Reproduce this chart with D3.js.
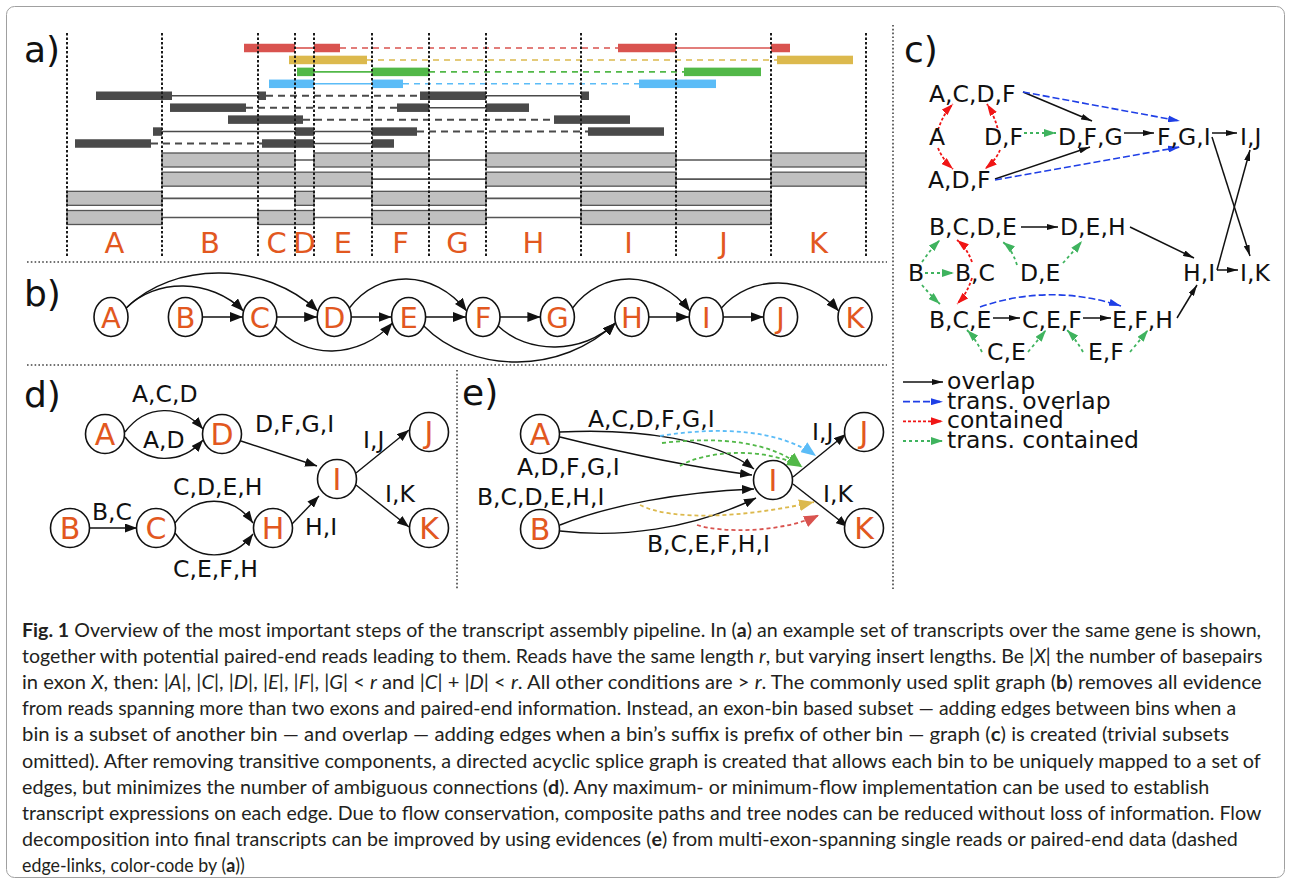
<!DOCTYPE html>
<html>
<head>
<meta charset="utf-8">
<script src="https://cdn.jsdelivr.net/npm/d3@7"></script>
<style>
  body { margin: 0; background: #fff; }
  svg { display: block; }
</style>
</head>
<body>
<svg id="fig" width="1291" height="883"></svg>
<script>
// ---------------- gene model ----------------
const exonNames   = ["A","B","C","D","E","F","G","H","I","J","K"];
const exonLengths = [95, 96, 37, 19, 58, 57, 57, 95, 95, 95, 95];

// transcripts as exon chains (top row first)
const transcripts = [
  ["B","C","E","F","H","I","K"],
  ["B","C","D","E","H","I","K"],
  ["A","D","F","G","I","J"],
  ["A","C","D","F","G","I","J"]
];

// paired-end reads: aligned blocks [start, end] in gene coordinates
const readMate1 = [
  [[177,228],[247,273]],
  [[222,300]],
  [[230,247],[305,362]],
  [[202,247],[305,336]],
  [[29,105],[191,199]],
  [[103,179]],
  [[161,236]],
  [[86,95],[228,247],[305,350]],
  [[8,84]]
];
const readMate2 = [
  [[551,609],[704,723]],
  [[710,786]],
  [[617,694]],
  [[572,649]],
  [[353,419],[514,522]],
  [[330,362],[419,462]],
  [[487,563]],
  [[521,597]],
  [[195,247],[305,327]]
];
// transcript each read is unique evidence for (-1 = shared)
const readTranscript = [0, 1, 2, 3, -1, -1, -1, -1, -1];

// ---------------- graphs ----------------
// (c) exon-bin graph
const cNodes = [
  ["ACDF","A,C,D,F"],["A","A"],["DF","D,F"],["DFG","D,F,G"],["FGI","F,G,I"],["IJ","I,J"],["ADF","A,D,F"],
  ["BCDE","B,C,D,E"],["DEH","D,E,H"],["B","B"],["BC","B,C"],["DE","D,E"],["HI","H,I"],["IK","I,K"],
  ["BCE","B,C,E"],["CEF","C,E,F"],["EFH","E,F,H"],["CE","C,E"],["EF","E,F"]
];
const cTypes = ["overlap","trans. overlap","contained","trans. contained"];
const cEdges = [
  ["A","ACDF",2],["A","ADF",2],["DF","ACDF",2],["DF","ADF",2],["DF","DFG",3],
  ["ACDF","DFG",0],["ADF","DFG",0],["ACDF","FGI",1],["ADF","FGI",1],["DFG","FGI",0],
  ["FGI","IJ",0],["FGI","IK",0],["HI","IJ",0],["HI","IK",0],
  ["B","BCDE",3],["B","BC",3],["B","BCE",3],["BC","BCDE",2],["BC","BCE",2],
  ["DE","BCDE",3],["DE","DEH",3],["BCDE","DEH",0],["DEH","HI",0],
  ["BCE","CEF",0],["CEF","EFH",0],["BCE","EFH",1],
  ["CE","BCE",3],["CE","CEF",3],["EF","CEF",3],["EF","EFH",3],["EFH","HI",0]
];

// (d) directed acyclic splice graph
const dNodes = ["A","D","B","C","H","I","J","K"];
const dEdges = [
  ["A","D","A,C,D"],["A","D","A,D"],["D","I","D,F,G,I"],["B","C","B,C"],
  ["C","H","C,D,E,H"],["C","H","C,E,F,H"],["H","I","H,I"],["I","J","I,J"],["I","K","I,K"]
];

// (e) reduced graph with read evidence
const eNodes = ["A","B","I","J","K"];
const eEdges = [
  ["A","I","A,C,D,F,G,I"],["A","I","A,D,F,G,I"],["B","I","B,C,D,E,H,I"],["B","I","B,C,E,F,H,I"],
  ["I","J","I,J"],["I","K","I,K"]
];
// evidence links: [transcript index, from edge label, to edge label]
const eLinks = [
  [3,"A,C,D,F,G,I","I,J"],[2,"A,D,F,G,I","I,J"],[2,"A,D,F,G,I","I,J"],
  [1,"B,C,D,E,H,I","I,K"],[0,"B,C,E,F,H,I","I,K"]
];

// caption
const captionLines = [
  [["Fig. 1","b"],[" Overview of the most important steps of the transcript assembly pipeline. In ("],["a","b"],[") an example set of transcripts over the same gene is shown,"]],
  [["together with potential paired-end reads leading to them. Reads have the same length "],["r","i"],[", but varying insert lengths. Be |"],["X","i"],["| the number of basepairs"]],
  [["in exon "],["X","i"],[", then: |"],["A","i"],["|, |"],["C","i"],["|, |"],["D","i"],["|, |"],["E","i"],["|, |"],["F","i"],["|, |"],["G","i"],["| < "],["r","i"],[" and |"],["C","i"],["| + |"],["D","i"],["| < "],["r","i"],[". All other conditions are > "],["r","i"],[". The commonly used split graph ("],["b","b"],[") removes all evidence"]],
  [["from reads spanning more than two exons and paired-end information. Instead, an exon-bin based subset \u2014 adding edges between bins when a"]],
  [["bin is a subset of another bin \u2014 and overlap \u2014 adding edges when a bin\u2019s suffix is prefix of other bin \u2014 graph ("],["c","b"],[") is created (trivial subsets"]],
  [["omitted). After removing transitive components, a directed acyclic splice graph is created that allows each bin to be uniquely mapped to a set of"]],
  [["edges, but minimizes the number of ambiguous connections ("],["d","b"],["). Any maximum- or minimum-flow implementation can be used to establish"]],
  [["transcript expressions on each edge. Due to flow conservation, composite paths and tree nodes can be reduced without loss of information. Flow"]],
  [["decomposition into final transcripts can be improved by using evidences ("],["e","b"],[") from multi-exon-spanning single reads or paired-end data (dashed"]],
  [["edge-links, color-code by ("],["a","b"],["))"]]
];

// ---------------- styles & layout ----------------
const FONT = "'DejaVu Sans', Verdana, sans-serif";
const ORANGE = "#e2581f";
const transcriptColor = ["#d9534f", "#dcb94d", "#52b848", "#5bbcf7"];
const sharedReadColor = "#4a4a4a";
const cTypeStyle = [
  { color: "#111", dash: null, width: 1.5, marker: "arrC0" },
  { color: "#1f3fe6", dash: "7,3", width: 1.6, marker: "arrC1" },
  { color: "#f01515", dash: "3,2", width: 1.8, marker: "arrC2" },
  { color: "#3fb35e", dash: "3,3", width: 1.8, marker: "arrC3" }
];

const svg = d3.select("#fig");
const defs = svg.append("defs");
function arrowMarker(id, color, len, wid) {
  defs.append("marker").attr("id", id)
    .attr("markerUnits", "userSpaceOnUse")
    .attr("viewBox", `0 0 ${len} ${wid}`)
    .attr("refX", len).attr("refY", wid / 2)
    .attr("markerWidth", len).attr("markerHeight", wid)
    .attr("orient", "auto")
    .append("path").attr("d", `M0,0L${len},${wid / 2}L0,${wid}Z`).attr("fill", color);
}
arrowMarker("arrB", "#111", 13, 10);
arrowMarker("arrC0", "#111", 11, 6);
arrowMarker("arrC1", cTypeStyle[1].color, 12, 7);
arrowMarker("arrC2", cTypeStyle[2].color, 12, 8);
arrowMarker("arrC3", cTypeStyle[3].color, 12, 8);
arrowMarker("arrD", "#111", 12, 9);
transcriptColor.forEach((c, i) => arrowMarker("arrE" + i, c, 15, 12));

function routePath(p) {
  if (p.length === 2) return `M${p[0]}L${p[1]}`;
  if (p.length === 3) return `M${p[0]}Q${p[1]} ${p[2]}`;
  return `M${p[0]}C${p[1]} ${p[2]} ${p[3]}`;
}

svg.append("rect").attr("width", 1291).attr("height", 883).attr("fill", "#fff");
svg.append("rect").attr("x", 6.5).attr("y", 6.5).attr("width", 1278).attr("height", 871)
  .attr("rx", 8).attr("fill", "none").attr("stroke", "#a0a0a0").attr("stroke-width", 1);

// panel separators
const sep = svg.append("g").attr("stroke", "#444").attr("stroke-width", 1.6)
  .attr("stroke-dasharray", "1.6,2.2").attr("fill", "none");
sep.append("line").attr("x1", 27).attr("x2", 887).attr("y1", 262).attr("y2", 262);
sep.append("line").attr("x1", 27).attr("x2", 887).attr("y1", 365).attr("y2", 365);
sep.append("line").attr("x1", 893).attr("x2", 893).attr("y1", 25).attr("y2", 590);
sep.append("line").attr("x1", 457).attr("x2", 457).attr("y1", 370).attr("y2", 590);

function panelLabel(txt, x, y) {
  svg.append("text").attr("x", x).attr("y", y).text(txt)
    .attr("font-family", FONT).attr("font-size", 36).attr("fill", "#111");
}
panelLabel("a)", 24, 62);
panelLabel("b)", 24, 306);
panelLabel("c)", 904, 62);
panelLabel("d)", 24, 407);
panelLabel("e)", 462, 405);

// ---------------- (a) transcripts and reads ----------------
const exonStart = Array.from(d3.cumsum([0, ...exonLengths]));
const exonIndex = new Map(exonNames.map((n, i) => [n, i]));
const geneX = d3.scaleLinear().domain([0, d3.sum(exonLengths)]).range([67, 866]);
const readY = d3.scalePoint().domain(d3.range(readMate1.length)).range([48, 143.5]);
const txY = d3.scalePoint().domain(d3.range(transcripts.length)).range([160, 217.5]);
const pa = svg.append("g");

// transcripts
transcripts.forEach((tx, t) => {
  const y = txY(t);
  const idx = tx.map(n => exonIndex.get(n));
  pa.append("line")
    .attr("x1", geneX(exonStart[idx[0]])).attr("x2", geneX(exonStart[idx[idx.length - 1] + 1]))
    .attr("y1", y).attr("y2", y).attr("stroke", "#555").attr("stroke-width", 1.6);
  // contiguous exon runs form one box
  const runs = [];
  idx.forEach(i => {
    const last = runs[runs.length - 1];
    if (last && last[1] === i - 1) last[1] = i; else runs.push([i, i]);
  });
  pa.selectAll(null).data(runs).join("rect")
    .attr("x", d => geneX(exonStart[d[0]]))
    .attr("width", d => geneX(exonStart[d[1] + 1]) - geneX(exonStart[d[0]]))
    .attr("y", y - 7).attr("height", 14)
    .attr("fill", "#c0c0c0").attr("stroke", "#555").attr("stroke-width", 1.3);
});

// reads
readMate1.forEach((m1, r) => {
  const m2 = readMate2[r];
  const y = readY(r);
  const col = readTranscript[r] >= 0 ? transcriptColor[readTranscript[r]] : sharedReadColor;
  const g = pa.append("g");
  // insert between mates
  g.append("line")
    .attr("x1", geneX(m1[m1.length - 1][1])).attr("x2", geneX(m2[0][0]))
    .attr("y1", y).attr("y2", y).attr("stroke", col)
    .attr("stroke-width", r < 4 ? 1.6 : 2).attr("stroke-dasharray", r < 4 ? "6,5" : "7,5");
  [m1, m2].forEach(m => {
    for (let k = 1; k < m.length; k++) {
      g.append("line").attr("x1", geneX(m[k - 1][1])).attr("x2", geneX(m[k][0]))
        .attr("y1", y).attr("y2", y).attr("stroke", col).attr("stroke-width", 1.6);
    }
    g.selectAll(null).data(m).join("rect")
      .attr("x", d => geneX(d[0])).attr("width", d => geneX(d[1]) - geneX(d[0]))
      .attr("y", y - 4.25).attr("height", 8.5).attr("fill", col);
  });
});

// exon borders
pa.selectAll(null).data(exonStart).join("line")
  .attr("x1", d => geneX(d)).attr("x2", d => geneX(d))
  .attr("y1", 33).attr("y2", 256)
  .attr("stroke", "#1a1a1a").attr("stroke-width", 2).attr("stroke-dasharray", "2.5,2");

// exon names
pa.selectAll(null).data(exonNames).join("text")
  .attr("x", (d, i) => geneX((exonStart[i] + exonStart[i + 1]) / 2))
  .attr("y", 253).attr("text-anchor", "middle")
  .attr("font-family", FONT).attr("font-size", 29).attr("fill", ORANGE)
  .text(d => d);

// ---------------- (b) split graph ----------------
const bX = d3.scalePoint().domain(exonNames).range([111, 855]);
const bY = 317, bRx = 17, bRy = 19.5;
const bEdgeSet = new Map();
transcripts.forEach(tx => tx.slice(1).forEach((n, k) => bEdgeSet.set(tx[k] + "-" + n, [tx[k], n])));
// apex of each skipping arc (y); adjacent exons are joined straight
const bArcApex = { "A-C": 286, "A-D": 273, "D-F": 279, "G-I": 279, "I-K": 283,
                   "C-E": 351, "E-H": 362, "F-H": 347 };
const pb = svg.append("g");
bEdgeSet.forEach(([s, t], key) => {
  const x0 = bX(s), x3 = bX(t);
  let d;
  if (!(key in bArcApex)) {
    d = `M${x0 + bRx},${bY}L${x3 - bRx},${bY}`;
  } else {
    const apex = bArcApex[key];
    const dir = apex < bY ? -1 : 1;
    const p0 = [x0 + bRx * 0.88, bY + dir * bRy * 0.45];
    const p3 = [x3 - bRx * 0.95, bY + dir * bRy * 0.3];
    const h = (apex - 0.125 * (p0[1] + p3[1])) / 0.75;
    const c1 = [p0[0] + (p3[0] - p0[0]) * 0.25, h];
    const c2 = [p0[0] + (p3[0] - p0[0]) * 0.72, h];
    d = routePath([p0, c1, c2, p3]);
  }
  pb.append("path").attr("d", d).attr("fill", "none").attr("stroke", "#111")
    .attr("stroke-width", 1.4).attr("marker-end", "url(#arrB)");
});
const bNode = pb.selectAll(null).data(exonNames).join("g")
  .attr("transform", d => `translate(${bX(d)},${bY})`);
bNode.append("ellipse").attr("rx", bRx).attr("ry", bRy)
  .attr("fill", "#fff").attr("stroke", "#111").attr("stroke-width", 1.6);
bNode.append("text").attr("text-anchor", "middle").attr("y", 10.5)
  .attr("font-family", FONT).attr("font-size", 29).attr("fill", ORANGE).text(d => d);

// ---------------- (c) exon-bin graph ----------------
const cPos = {
  ACDF: [929, 102], A: [929, 145], DF: [984, 145], DFG: [1058, 145], FGI: [1157, 145], IJ: [1240, 145],
  ADF: [928, 188], BCDE: [929, 235], DEH: [1060, 235], B: [908, 281], BC: [955, 281], DE: [1020, 281],
  HI: [1183, 281], IK: [1240, 281], BCE: [929, 328], CEF: [1022, 328], EFH: [1112, 328],
  CE: [987, 360], EF: [1088, 360]
};
const cRoutes = [
  [[938,130],[943,114],[953,104]], [[938,148],[943,160],[953,169]],
  [[1000,138],[996,118],[987,104]], [[1000,150],[996,160],[985,169]],
  [[1024,133],[1056,133]],
  [[1023,92],[1092,121]], [[995,179],[1090,147]],
  [[1023,92],[1180,121]], [[995,180],[1180,147]],
  [[1124,133],[1154,133]],
  [[1212,133],[1237,133]], [[1212,137],[1250,256]], [[1217,270],[1250,150]], [[1217,270],[1238,270]],
  [[922,262],[931,249],[940,240]], [[925,273],[954,273]], [[922,285],[931,296],[940,304]],
  [[972,262],[967,248],[957,240]], [[972,278],[967,294],[957,304]],
  [[1017,265],[1012,249],[1003,242]], [[1063,263],[1073,252],[1082,241]],
  [[1021,227],[1058,227]], [[1130,227],[1194,258]],
  [[993,318],[1020,318]], [[1083,318],[1111,318]],
  [[980,307],[1050,283],[1121,306]],
  [[982,352],[975,338],[967,330]], [[1028,352],[1038,340],[1046,330]],
  [[1083,352],[1075,338],[1067,330]], [[1130,352],[1140,340],[1148,330]],
  [[1177,318],[1197,285]]
];
const pc = svg.append("g");
cEdges.forEach((e, i) => {
  const st = cTypeStyle[e[2]];
  pc.append("path").attr("d", routePath(cRoutes[i])).attr("fill", "none")
    .attr("stroke", st.color).attr("stroke-width", st.width)
    .attr("stroke-dasharray", st.dash).attr("marker-end", `url(#${st.marker})`);
});
pc.selectAll(null).data(cNodes).join("text")
  .attr("x", d => cPos[d[0]][0]).attr("y", d => cPos[d[0]][1])
  .attr("font-family", FONT).attr("font-size", 23.5).attr("fill", "#111")
  .text(d => d[1]);

// legend
const legY = d3.scalePoint().domain(cTypes).range([382, 441]);
cTypes.forEach((t, i) => {
  const st = cTypeStyle[i];
  pc.append("line").attr("x1", 903).attr("x2", 943).attr("y1", legY(t)).attr("y2", legY(t))
    .attr("stroke", st.color).attr("stroke-width", st.width).attr("stroke-dasharray", st.dash)
    .attr("marker-end", `url(#${st.marker})`);
  pc.append("text").attr("x", 947).attr("y", legY(t) + 7).text(t)
    .attr("font-family", FONT).attr("font-size", 23.5).attr("fill", "#111");
});

// ---------------- node-link helper for (d) and (e) ----------------
function drawNodes(g, names, pos) {
  const n = g.selectAll(null).data(names).join("g")
    .attr("transform", d => `translate(${pos[d][0]},${pos[d][1]})`);
  n.append("circle").attr("r", 19.5).attr("fill", "#fff").attr("stroke", "#111").attr("stroke-width", 1.6);
  n.append("text").attr("text-anchor", "middle").attr("y", 11)
    .attr("font-family", FONT).attr("font-size", 30).attr("fill", ORANGE).text(d => d);
}
function drawEdgeLabels(g, edges, labelPos) {
  g.selectAll(null).data(edges).join("text")
    .attr("x", (d, i) => labelPos[i][0]).attr("y", (d, i) => labelPos[i][1])
    .attr("font-family", FONT).attr("font-size", 23.5).attr("fill", "#111")
    .text(d => d[2]);
}

// ---------------- (d) ----------------
const dPos = { A: [105, 434], D: [222, 434], B: [70, 528], C: [156, 528], H: [273, 528],
               I: [337, 479], J: [429, 432], K: [429, 528] };
const dRoutes = [
  [[125,432],[146,404],[181,404],[203,429]],
  [[125,437],[146,465],[181,465],[203,440]],
  [[241,441],[317,466]],
  [[89,528],[137,528]],
  [[175,523],[196,494],[232,494],[253,523]],
  [[175,533],[196,562],[232,562],[253,534]],
  [[292,524],[319,496]],
  [[356,473],[409,430]],
  [[356,485],[409,527]]
];
const dLabelPos = [[132,402],[143,448],[255,432],[92,520],[173,495],[173,577],[305,535],[363,448],[385,502]];
const pd = svg.append("g");
dEdges.forEach((e, i) => pd.append("path").attr("d", routePath(dRoutes[i])).attr("fill", "none")
  .attr("stroke", "#111").attr("stroke-width", 1.4).attr("marker-end", "url(#arrD)"));
drawNodes(pd, dNodes, dPos);
drawEdgeLabels(pd, dEdges, dLabelPos);

// ---------------- (e) ----------------
const ePos = { A: [540, 434], B: [540, 529], I: [773, 480], J: [864, 432], K: [864, 528] };
const eRoutes = [
  [[560,432],[640,428],[716,440],[754,469]],
  [[560,437],[620,452],[690,467],[752,475]],
  [[560,525],[610,505],[680,492],[754,489]],
  [[560,531],[620,538],[690,530],[756,498]],
  [[793,477],[846,434]],
  [[793,484],[848,527]]
];
const eLabelPos = [[588,427],[517,475],[477,505],[647,552],[812,440],[823,502]];
const eLinkRoutes = [
  [[660,436],[720,426],[780,430],[816,456]],
  [[662,443],[720,436],[772,442],[802,467]],
  [[680,466],[702,452],[762,445],[802,467]],
  [[640,505],[672,521],[742,518],[814,502]],
  [[697,525],[722,533],[782,533],[819,515]]
];
const pe = svg.append("g");
eEdges.forEach((e, i) => pe.append("path").attr("d", routePath(eRoutes[i])).attr("fill", "none")
  .attr("stroke", "#111").attr("stroke-width", 1.4).attr("marker-end", "url(#arrD)"));
eLinks.forEach((l, i) => pe.append("path").attr("d", routePath(eLinkRoutes[i])).attr("fill", "none")
  .attr("stroke", transcriptColor[l[0]]).attr("stroke-width", 1.8).attr("stroke-dasharray", "4,3")
  .attr("marker-end", `url(#arrE${l[0]})`));
drawNodes(pe, eNodes, ePos);
drawEdgeLabels(pe, eEdges, eLabelPos);

// ---------------- caption ----------------
const captionEnds = [1262, 1263, 1262, 1237, 1230, 1262, 1210, 1262, 1238, 245];
captionLines.forEach((segs, i) => {
  const g = svg.append("g");
  const t = g.append("text").attr("font-family", "Lato, 'Open Sans', sans-serif")
    .attr("font-size", 18.5).attr("fill", "#231f20");
  segs.forEach(s => t.append("tspan").text(s[0])
    .attr("font-weight", s[1] === "b" ? 700 : null)
    .attr("font-style", s[1] === "i" ? "italic" : null));
  const w = t.node().getComputedTextLength();
  g.attr("transform", `translate(22,${637 + i * 26.1}) scale(${(captionEnds[i] - 22) / w},1)`);
});
</script>
</body>
</html>
